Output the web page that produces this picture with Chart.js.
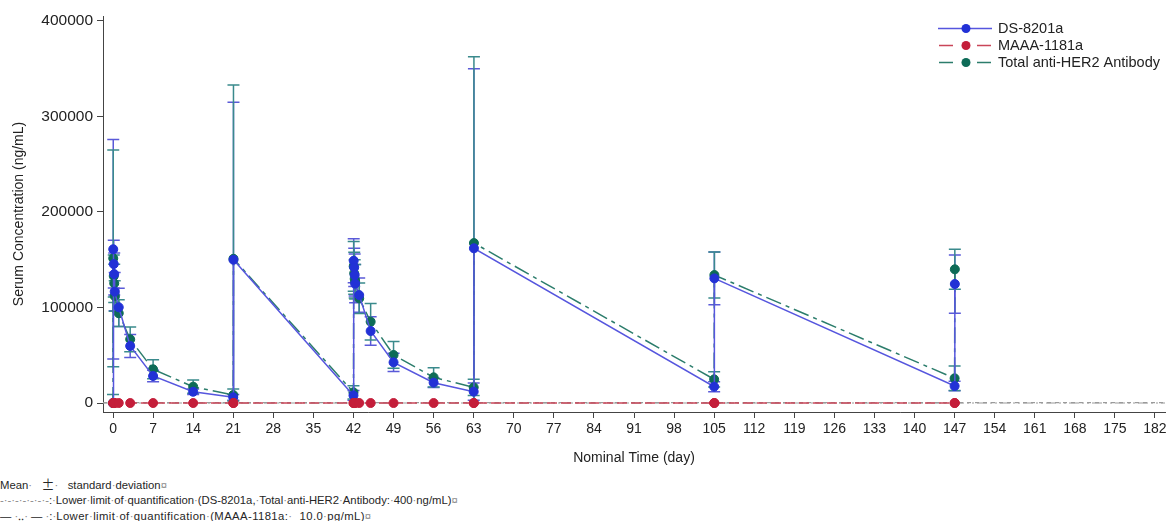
<!DOCTYPE html>
<html>
<head>
<meta charset="utf-8">
<script src="https://cdn.jsdelivr.net/npm/chart.js@4.4.1/dist/chart.umd.min.js"></script>
<style>
  html, body { margin: 0; padding: 0; background: #fff; }
  #wrap { position: relative; width: 1171px; height: 521px; overflow: hidden; font-family: "Liberation Sans", Arial, sans-serif; }
  #c { position: absolute; left: 0; top: 0; }
  .note { position: absolute; left: 0; font-size: 11.3px; line-height: 14px; color: #262626; white-space: pre; }
  .mk { color: #8a8a8a; }
  .pm { font-family: "Noto Sans CJK SC", sans-serif; font-size: 13px; }
</style>
</head>
<body>
<div id="wrap">
  <canvas id="c" width="1171" height="470"></canvas>
  <div class="note" style="top:477px">Mean<span class="mk">·</span>   <span class="pm">±</span><span class="mk">·</span>   standard<span class="mk">·</span>deviation<span class="mk">¤</span></div>
  <div class="note" style="top:493px"><span class="mk">-·-·-·-·-·-·-</span>:<span class="mk">·</span>Lower<span class="mk">·</span>limit<span class="mk">·</span>of<span class="mk">·</span>quantification<span class="mk">·</span>(DS-8201a,<span class="mk">·</span>Total<span class="mk">·</span>anti-HER2<span class="mk">·</span>Antibody:<span class="mk">·</span>400<span class="mk">·</span>ng/mL)<span class="mk">¤</span></div>
  <div class="note" style="top:509px">— <span class="mk">·</span>‥<span class="mk">·</span> — <span class="mk">·</span>:<span class="mk">·</span><span style="letter-spacing:0.4px">Lower<span class="mk">·</span>limit<span class="mk">·</span>of<span class="mk">·</span>quantification<span class="mk">·</span>(MAAA-1181a:<span class="mk">·</span>  10.0<span class="mk">·</span>pg/mL)<span class="mk">¤</span></span></div>
</div>
<script>
// Nominal sampling times (day) shared by all analytes
const nominalDays = [0, 0.04, 0.13, 0.21, 0.29, 1, 3, 7, 14, 21, 21.04,
  42, 42.04, 42.13, 42.21, 42.29, 43, 45, 49, 56, 63, 63.04,
  105, 105.04, 147, 147.04];

// DS-8201a mean and SD (ng/mL)
const ds8201aMean = [0, 161000, 145500, 135000, 116600, 100200, 59700, 28300, 11800, 6000, 150000,
  8000, 149000, 142000, 134000, 125000, 113000, 75400, 42600, 21300, 11900, 162000,
  17100, 130500, 17800, 124600];
const ds8201aSD = [0, 115000, 25000, 22000, 20000, 20000, 12000, 6000, 3000, 3000, 165000,
  5000, 23000, 20000, 22000, 20000, 18000, 15000, 9500, 5000, 9000, 188000,
  5300, 27500, 5000, 30500];

// MAAA-1181a mean (ng/mL) - far below the scale resolution
const maaaMean = [0, 0, 0, 0, 0, 0, 0, 0, 0, 0, 0,
  0, 0, 0, 0, 0, 0, 0, 0, 0, 0, 0,
  0, 0, 0, 0];

// Total anti-HER2 antibody mean and SD (ng/mL)
const totalAbMean = [0, 151500, 133000, 125300, 112000, 94000, 66700, 35300, 17100, 8400, 151000,
  11200, 143000, 135800, 130000, 127000, 109600, 85100, 50300, 26900, 16400, 167500,
  24800, 134000, 25900, 140000];
const totalAbSD = [9000, 113500, 22000, 20000, 16000, 14000, 13000, 10000, 7000, 6300, 182000,
  7000, 26000, 22000, 20000, 18000, 16000, 19000, 14000, 10000, 8400, 195000,
  8000, 24000, 12800, 21000];

// Axis ticks and limits
const xTickValues = [0, 7, 14, 21, 28, 35, 42, 49, 56, 63, 70, 77, 84, 91, 98, 105, 112, 119, 126, 133, 140, 147, 154, 161, 168, 175, 182];
const yTickValues = [0, 100000, 200000, 300000, 400000];
const xRange = [-1.75, 183.75];
const yRange = [-9400, 405200];

// Lower limits of quantification (ng/mL)
const lloqAntibody = 400;
const lloqPayload = 0.00001;

const COLORS = {
  ds: { line: '#5656de', point: '#2231d6', err: '#5a5ad8' },
  maaa: { line: '#c94658', point: '#c41e3a' },
  tab: { line: '#2c7d6c', point: '#0d6b57', err: '#3a8a8c' },
  ref: '#9a9a9a'
};

const pts = (ys) => nominalDays.map((d, i) => ({ x: d, y: ys[i] }));

const datasets = [
  {
    label: 'MAAA-1181a', data: pts(maaaMean),
    borderColor: COLORS.maaa.line, borderWidth: 1.5, borderDash: [10, 4],
    pointBackgroundColor: COLORS.maaa.point, pointBorderColor: COLORS.maaa.point,
    pointRadius: 4.5, pointBorderWidth: 1
  },
  {
    label: 'DS-8201a', data: pts(ds8201aMean), sd: ds8201aSD, errColor: COLORS.ds.err,
    borderColor: COLORS.ds.line, borderWidth: 1.5,
    pointBackgroundColor: COLORS.ds.point, pointBorderColor: COLORS.ds.point,
    pointRadius: 4.5, pointBorderWidth: 1
  },
  {
    label: 'Total anti-HER2 Antibody', data: pts(totalAbMean), sd: totalAbSD, errColor: COLORS.tab.err,
    borderColor: COLORS.tab.line, borderWidth: 1.5, borderDash: [16, 5, 4, 5],
    pointBackgroundColor: COLORS.tab.point, pointBorderColor: COLORS.tab.point,
    pointRadius: 4.5, pointBorderWidth: 1
  },
  {
    label: 'LLOQ antibody', data: [{ x: xRange[0], y: lloqAntibody }, { x: xRange[1], y: lloqAntibody }],
    borderColor: COLORS.ref, borderWidth: 1.2, borderDash: [4, 4], pointRadius: 0
  },
  {
    label: 'LLOQ payload', data: [{ x: xRange[0], y: lloqPayload }, { x: xRange[1], y: lloqPayload }],
    borderColor: COLORS.ref, borderWidth: 1.2, borderDash: [10, 3, 2, 3, 2, 3], pointRadius: 0
  }
];

// Mean ± SD whiskers, drawn beneath the series (antibody whiskers over DS-8201a whiskers)
const errorBars = {
  id: 'errorBars',
  beforeDatasetsDraw(chart) {
    const { ctx, chartArea, scales: { x, y } } = chart;
    ctx.save();
    ctx.beginPath();
    ctx.rect(chartArea.left, chartArea.top, chartArea.right - chartArea.left, chartArea.bottom - chartArea.top);
    ctx.clip();
    [1, 2].forEach((di) => {
      const ds = chart.data.datasets[di];
      if (!ds.sd) return;
      ctx.strokeStyle = ds.errColor;
      ctx.lineWidth = 1.5;
      ds.data.forEach((p, i) => {
        const s = ds.sd[i];
        if (!s) return;
        const px = x.getPixelForValue(p.x);
        const hi = p.y + s;
        const lo = p.y - s;
        const yHi = y.getPixelForValue(hi);
        const yLo = y.getPixelForValue(Math.max(lo, 0));
        ctx.beginPath();
        ctx.moveTo(px, yHi); ctx.lineTo(px, yLo);
        ctx.moveTo(px - 6, yHi); ctx.lineTo(px + 6, yHi);
        if (lo > 0) { ctx.moveTo(px - 6, yLo); ctx.lineTo(px + 6, yLo); }
        ctx.stroke();
      });
    });
    ctx.restore();
  }
};

// Legend with line-and-marker samples
const seriesLegend = {
  id: 'seriesLegend',
  afterDraw(chart) {
    const ctx = chart.ctx;
    const rows = [
      { ds: chart.data.datasets[1], solid: true },
      { ds: chart.data.datasets[0], solid: false },
      { ds: chart.data.datasets[2], solid: false }
    ];
    ctx.save();
    rows.forEach((r, i) => {
      const yy = 28.5 + i * 17;
      ctx.strokeStyle = r.ds.borderColor;
      ctx.lineWidth = 1.5;
      ctx.setLineDash([]);
      ctx.beginPath();
      if (r.solid) {
        ctx.moveTo(938, yy); ctx.lineTo(992, yy);
      } else {
        ctx.moveTo(939, yy); ctx.lineTo(953, yy);
        ctx.moveTo(977, yy); ctx.lineTo(991, yy);
      }
      ctx.stroke();
      ctx.fillStyle = r.ds.pointBackgroundColor;
      ctx.beginPath();
      ctx.arc(966, yy, 4.5, 0, Math.PI * 2);
      ctx.fill();
      ctx.fillStyle = '#222';
      ctx.font = '14.5px "Liberation Sans", Arial, sans-serif';
      ctx.textBaseline = 'middle';
      ctx.textAlign = 'left';
      ctx.fillText(r.ds.label, 998, yy);
    });
    ctx.restore();
  }
};

const axisFont = { family: '"Liberation Sans", Arial, sans-serif', size: 14 };
const yTickFont = { family: '"Liberation Sans", Arial, sans-serif', size: 15.5 };

new Chart(document.getElementById('c'), {
  type: 'line',
  data: { datasets },
  plugins: [errorBars, seriesLegend],
  options: {
    responsive: false,
    animation: false,
    layout: { padding: { top: 16, right: 6, left: 0, bottom: 0 } },
    plugins: { legend: { display: false }, tooltip: { enabled: false } },
    elements: { line: { tension: 0 } },
    scales: {
      x: {
        type: 'linear', min: xRange[0], max: xRange[1],
        afterBuildTicks: (s) => { s.ticks = xTickValues.map((v) => ({ value: v })); },
        afterFit: (s) => { s.height = 58; },
        grid: { drawOnChartArea: false, drawTicks: true, tickLength: 6, color: '#444', lineWidth: 1 },
        border: { display: true, color: '#444', width: 1 },
        ticks: { color: '#222', font: axisFont, padding: 3, maxRotation: 0, autoSkip: false },
        title: { display: true, text: 'Nominal Time (day)', color: '#222', font: axisFont, padding: { top: 0, bottom: 3 } }
      },
      y: {
        type: 'linear', min: yRange[0], max: yRange[1],
        afterBuildTicks: (s) => { s.ticks = yTickValues.map((v) => ({ value: v })); },
        afterFit: (s) => { s.width = 103; },
        grid: { drawOnChartArea: false, drawTicks: true, tickLength: 6, color: '#444', lineWidth: 1 },
        border: { display: true, color: '#444', width: 1 },
        ticks: { color: '#222', font: yTickFont, padding: 4, callback: (v) => String(v) },
        title: { display: true, text: 'Serum Concentration (ng/mL)', color: '#222', font: axisFont, padding: { top: 11, bottom: 0 } }
      }
    }
  }
});
</script>
</body>
</html>
